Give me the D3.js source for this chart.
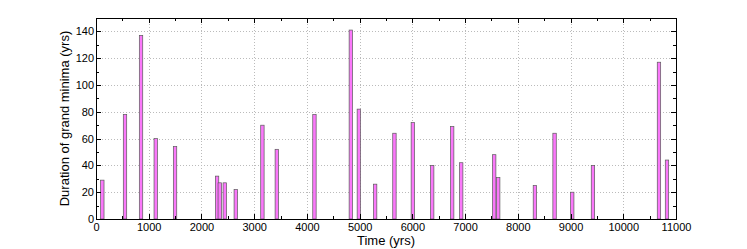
<!DOCTYPE html>
<html><head><meta charset="utf-8">
<script src="https://cdn.jsdelivr.net/npm/d3@7"></script>
<style>body{margin:0;background:#fff}svg{display:block}text{font-family:"Liberation Sans",Arial,sans-serif}</style>
</head><body>
<svg id="c" width="747" height="249"></svg>
<script>
const times = [120, 550, 854, 1133, 1499, 2296, 2347, 2442, 2651, 3156, 3429, 4143, 4833, 4985, 5294, 5660, 6009, 6376, 6755, 6926, 7552, 7628, 8324, 8697, 9032, 9425, 10677, 10829];
const durations = [29, 78, 137, 60, 54, 32, 27, 27, 22, 70, 52, 78, 141, 82, 26, 64, 72, 40, 69, 42, 48, 31, 25, 64, 20, 40, 117, 44];
const xTicks = [0,1000,2000,3000,4000,5000,6000,7000,8000,9000,10000,11000];
const yTicks = [0,20,40,60,80,100,120,140];
const xLabel = "Time (yrs)";
const yLabel = "Duration of grand minima (yrs)";

const svg = d3.select("#c");
const L=96, R=676, T=18, B=219;
const x = d3.scaleLinear().domain([0,11000]).range([L,R]);
const y = d3.scaleLinear().domain([0,150]).range([B,T]);

// grid
const g = svg.append("g");
g.selectAll(".gx").data(xTicks.slice(1,-1)).enter().append("line")
 .attr("x1",d=>Math.round(x(d))+0.5).attr("x2",d=>Math.round(x(d))+0.5).attr("y1",T).attr("y2",B)
 .attr("stroke","#bbb").attr("stroke-dasharray","1,2").attr("stroke-width",1);
g.selectAll(".gy").data(yTicks.slice(1)).enter().append("line")
 .attr("y1",d=>Math.round(y(d))+0.5).attr("y2",d=>Math.round(y(d))+0.5).attr("x1",L).attr("x2",R)
 .attr("stroke","#bbb").attr("stroke-dasharray","1,2").attr("stroke-width",1);

// bars
const bw = 3.4;
svg.append("g").selectAll("rect").data(times.map((t,i)=>({t, d:durations[i]}))).enter().append("rect")
 .attr("x",d=>x(d.t)-bw/2).attr("width",bw)
 .attr("y",d=>y(d.d)).attr("height",d=>y(0)-y(d.d))
 .attr("fill","#fa78fa").attr("stroke","#5a5a5a").attr("stroke-width",0.7);

// axes with inward ticks
const xMinor = d3.range(0,11001,500);
const yMinor = d3.range(0,151,10);
const ax = svg.append("g").attr("stroke","#000");
function tickLines(vals, len, side){
  vals.forEach(v=>{
    if(side==="b"||side==="t"){
      const px = Math.round(x(v))+0.5;
      const y0 = side==="b"?B:T, dir = side==="b"?-1:1;
      ax.append("line").attr("x1",px).attr("x2",px).attr("y1",y0).attr("y2",y0+dir*len).attr("stroke-width",1);
    } else {
      const py = Math.round(y(v))+0.5;
      const x0 = side==="l"?L:R, dir = side==="l"?1:-1;
      ax.append("line").attr("y1",py).attr("y2",py).attr("x1",x0).attr("x2",x0+dir*len).attr("stroke-width",1);
    }
  });
}
tickLines(xTicks,5,"b"); tickLines(xTicks,5,"t");
tickLines(xMinor,3,"b"); tickLines(xMinor,3,"t");
tickLines(yTicks,5,"l"); tickLines(yTicks,5,"r");
tickLines(yMinor,3,"l"); tickLines(yMinor,3,"r");
svg.append("rect").attr("x",L+0.5).attr("y",T+0.5).attr("width",R-L).attr("height",B-T)
 .attr("fill","none").attr("stroke","#000").attr("stroke-width",1);

// tick labels via d3 axis
const xa = svg.append("g").attr("transform",`translate(0,${B})`)
 .call(d3.axisBottom(x).tickValues(xTicks).tickSize(0).tickPadding(4).tickFormat(d3.format("d")));
xa.select(".domain").remove();
xa.selectAll("text").attr("font-size",11).attr("fill","#000").attr("font-family","Liberation Sans, Arial, sans-serif");
const ya = svg.append("g").attr("transform",`translate(${L},0)`)
 .call(d3.axisLeft(y).tickValues(yTicks).tickSize(0).tickPadding(2).tickFormat(d3.format("d")));
ya.select(".domain").remove();
ya.selectAll("text").attr("font-size",11).attr("fill","#000").attr("font-family","Liberation Sans, Arial, sans-serif");

svg.append("text").attr("x",(L+R)/2).attr("y",245).attr("text-anchor","middle").attr("font-size",13).text(xLabel);
svg.append("text").attr("transform",`translate(69,${(T+B)/2}) rotate(-90)`).attr("text-anchor","middle").attr("font-size",13).text(yLabel);
</script>
</body></html>
